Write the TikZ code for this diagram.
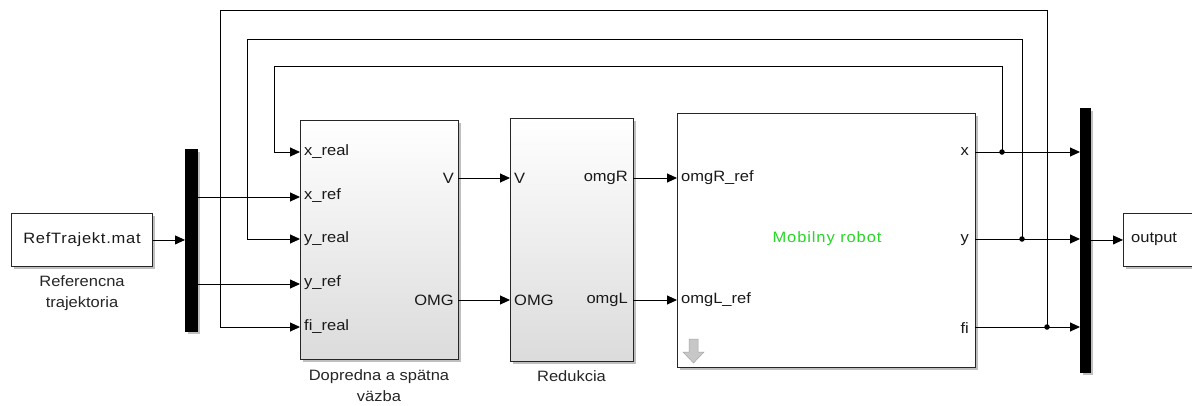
\documentclass[tikz,border=0pt]{standalone}
\usepackage{fontspec}
\setmainfont{Liberation Sans}[FakeStretch=1.1]
\usetikzlibrary{arrows.meta,shadows}
\begin{document}
\begin{tikzpicture}[x=1pt,y=-1pt,
  shd/.style={drop shadow={shadow xshift=3pt,shadow yshift=-3pt,fill=black!45,opacity=0.55}},
  blk/.style={draw=black!85, line width=0.9pt, anchor=north west, inner sep=0pt, shd},
  grad/.style={top color=white, bottom color=black!14},
  bar/.style={fill=black, draw=black, anchor=north west, inner sep=0pt, shd},
  arr/.style={-{Triangle[length=10pt,width=9pt]}, line width=0.9pt},
  dot/.style={circle, fill=black, inner sep=0pt, minimum size=5.5pt},
  lbl/.style={font=\fontsize{15}{18}\selectfont, text=black!90, inner sep=0pt},
  captxt/.style={font=\fontsize{15}{21}\selectfont, text=black!85, align=center, inner sep=0pt}
]
\useasboundingbox (0,0) rectangle (1192,405);
\fill[white] (0,0) rectangle (1192,405);

% blocks
\node[blk, fill=white, minimum width=141pt, minimum height=53pt] (ref) at (11,213) {};
\node[lbl] (reftxt) at (ref.center) {\addfontfeature{LetterSpace=5}RefTrajekt.mat};
\node[captxt] (refcap) at (82,293) {Referencna\\trajektoria};

\node[bar, minimum width=12pt, minimum height=182pt] (dm) at (185,149) {};

\node[blk, grad, minimum width=158pt, minimum height=239pt] (b1) at (300,120) {};
\node[captxt] (b1cap) at (379,386) {Dopredna a sp\"atna\\v\"azba};

\node[blk, grad, minimum width=123pt, minimum height=243pt] (b2) at (510,118) {};
\node[captxt] (b2cap) at (571.5,376) {Redukcia};

\node[blk, fill=white, minimum width=298pt, minimum height=254pt] (b3) at (677,113) {};
\node[lbl, text={rgb,255:red,40;green,215;blue,40}] (b3name) at (827,239) {\addfontfeature{LetterSpace=6}Mobilny robot};

\node[bar, minimum width=10pt, minimum height=264pt] (mx) at (1080,108) {};

\node[blk, fill=white, minimum width=90pt, minimum height=53pt] (out) at (1123,213) {};
\node[lbl, anchor=west] (outtxt) at (1131,239.5) {output};

% port coordinates
\coordinate (i1) at (300,152);
\coordinate (i2) at (300,197);
\coordinate (i3) at (300,239);
\coordinate (i4) at (300,284);
\coordinate (i5) at (300,327);
\coordinate (o1) at (458,178);
\coordinate (o2) at (458,300);
\coordinate (r1) at (510,178);
\coordinate (r2) at (510,300);
\coordinate (ro1) at (633,178);
\coordinate (ro2) at (633,300);
\coordinate (m1) at (677,178);
\coordinate (m2) at (677,300);
\coordinate (mx1) at (975,152);
\coordinate (mx2) at (975,239);
\coordinate (mx3) at (975,327);
\coordinate (bx1) at (1080,152);
\coordinate (bx2) at (1080,239);
\coordinate (bx3) at (1080,327);

% port labels block 1
\node[lbl, anchor=west] at (304,152) {x\_real};
\node[lbl, anchor=west] at (304,196) {x\_ref};
\node[lbl, anchor=west] at (304,239) {y\_real};
\node[lbl, anchor=west] at (304,283) {y\_ref};
\node[lbl, anchor=west] at (304,327) {fi\_real};
\node[lbl, anchor=east] at (454,178) {V};
\node[lbl, anchor=east] at (454,300) {OMG};
% block 2
\node[lbl, anchor=west] at (514,178) {V};
\node[lbl, anchor=west] at (514,300) {OMG};
\node[lbl, anchor=east] at (628,178) {omgR};
\node[lbl, anchor=east] at (628,300) {omgL};
% block 3
\node[lbl, anchor=west] at (681,178) {omgR\_ref};
\node[lbl, anchor=west] at (681,300) {omgL\_ref};
\node[lbl, anchor=east] at (969,152) {x};
\node[lbl, anchor=east] at (969,240) {y};
\node[lbl, anchor=east] at (969,328) {fi};

% grey down arrow icon
\filldraw[fill=black!22, draw=black!35, line width=0.5pt]
  (689,339) -- (698,339) -- (698,352) -- (704,352) -- (693.5,363) -- (683,352) -- (689,352) -- cycle;

% connectors
\draw[arr] (ref.east) -- (ref.east -| dm.west);
\draw[arr] (dm.east |- i2) -- (i2);
\draw[arr] (dm.east |- i4) -- (i4);
\draw[arr] (o1) -- (r1);
\draw[arr] (o2) -- (r2);
\draw[arr] (ro1) -- (m1);
\draw[arr] (ro2) -- (m2);
\draw[arr] (mx1) -- (bx1);
\draw[arr] (mx2) -- (bx2);
\draw[arr] (mx3) -- (bx3);
\draw[arr] (mx.east |- out.west) -- (out.west);

% feedback loops
\node[dot] (d1) at (1002,152) {};
\node[dot] (d2) at (1022,239) {};
\node[dot] (d3) at (1047,327) {};
\draw[arr] (d1.center) -- (1002,66) -- (274,66) -- (274,152) -- (i1);
\draw[arr] (d2.center) -- (1022,39) -- (247,39) -- (247,239) -- (i3);
\draw[arr] (d3.center) -- (1047,10) -- (220,10) -- (220,327) -- (i5);
\end{tikzpicture}
\end{document}
